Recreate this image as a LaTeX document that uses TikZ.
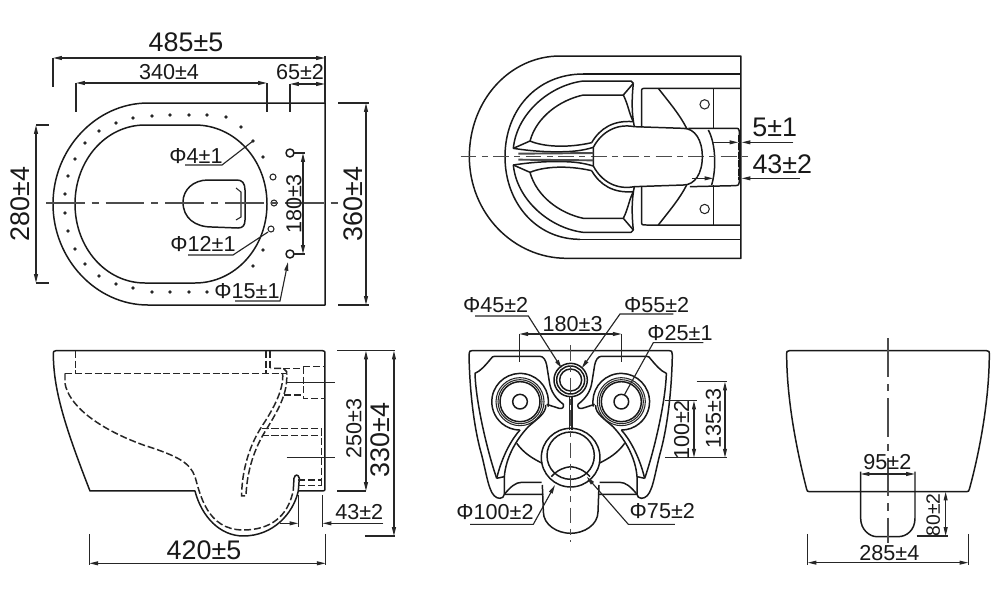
\documentclass[tikz,border=0pt]{standalone}
\usepackage{fontspec}
\setmainfont{Liberation Sans}
\usetikzlibrary{arrows.meta}
\tikzset{
    outl/.style={black!90, line width=0.85pt, line join=round},
    thinl/.style={black!85, line width=0.6pt},
    dashl/.style={black!85, line width=0.85pt, dash pattern=on 4pt off 1.6pt},
    centl/.style={black!70, line width=0.8pt, dash pattern=on 22pt off 4pt on 4pt off 4pt},
    centsh/.style={black!70, line width=0.8pt, dash pattern=on 9pt off 3pt on 3.5pt off 3pt},
    dimn/.style={black!85, line width=0.65pt},
    biglab/.style={inner sep=0pt, text=black!90, font=\fontsize{15.3}{15}\selectfont},
    midlab/.style={inner sep=0pt, text=black!90, font=\fontsize{12.3}{12}\selectfont},
    smalab/.style={inner sep=0pt, text=black!90, font=\fontsize{11}{11}\selectfont},
}
\begin{document}
\begin{tikzpicture}[x=0.02cm, y=-0.02cm, >={Stealth[inset=0pt,length=5pt,width=2.2pt]}]
    \useasboundingbox (0,0) rectangle (1000,596);

    % top view
    \draw[outl] (148,103) -- (325,103) -- (325,305) -- (148,305)
        .. controls (96,305) and (53,259) .. (53,204)
        .. controls (53,149) and (96,103) .. (148,103);
    \draw[outl] (145,125) -- (195,125) .. controls (235,125) and (267,160) .. (267,204)
        .. controls (267,248) and (235,283) .. (195,283) -- (145,283)
        .. controls (106,283) and (75,248) .. (75,204)
        .. controls (75,160) and (106,125) .. (145,125);
    \draw[outl] (245,190) .. controls (245,183) and (242,180) .. (237,180) -- (208,180)
        .. controls (193,180) and (183,190) .. (183,202)
        .. controls (183,218) and (195,227) .. (212,227) -- (238,228)
        .. controls (243,228) and (245,225) .. (245,220) -- cycle;
    \draw[thinl] (236,188) -- (241,192) -- (241,217) -- (236,220);
    \foreach \dx/\dy in {152/116,170/115,189/115,207/115,226/117,241/127,253/141,263/157,
        133/118,116/123,99/131,85/143,75/159,68/176,65/194,65/213,68/231,75/249,85/264,99/276,
        116/284,133/288,152/292,170/292,189/292,207/292,253/266,263/250}
        \fill[black!85] (\dx,\dy) circle[radius=1.9];
    \draw[outl] (290,153) circle[radius=4] (290,254) circle[radius=4];
    \draw[thinl] (273,177) circle[radius=3] (274,203) circle[radius=3] (271,229) circle[radius=3];
    \draw[centl] (46,203) -- (340,203);

    \draw[dimn, <->] (53,58) -- (325,58);
    \draw[dimn] (53,58) -- (53,87) (325,56) -- (325,103);
    \node[biglab] (lenTop) at (186,42) {485±5};
    \draw[dimn, <->] (76,83) -- (267,83);
    \draw[dimn] (76,83) -- (76,112) (267,83) -- (267,112);
    \node[midlab] (holeTop) at (169,72) {340±4};
    \draw[dimn, <->] (290,84) -- (325,84);
    \draw[dimn] (290,84) -- (290,112);
    \node[midlab] (gapTop) at (300,72) {65±2};
    \draw[dimn, <->] (366,103) -- (366,305);
    \draw[dimn] (338,103) -- (369,103) (338,305) -- (369,305);
    \node[biglab, rotate=90] (widTop) at (353,204) {360±4};
    \draw[dimn, <->] (36,125) -- (36,283);
    \draw[dimn] (36,125) -- (49,125) (36,283) -- (49,283);
    \node[biglab, rotate=90] (seatTop) at (20,204) {280±4};
    \draw[dimn, <->] (303,153) -- (303,254);
    \draw[dimn] (294,153) -- (305,153) (294,254) -- (305,254);
    \node[midlab, rotate=90] (fixTop) at (294,204) {180±3};
    \node[midlab] (phiFour) at (196,156) {Φ4±1};
    \draw[dimn] (185,165) -- (222,165) -- (253,141);
    \node[midlab] (phiTwelve) at (203,244) {Φ12±1};
    \draw[dimn] (188,255) -- (233,255) -- (268,232);
    \node[midlab] (phiFifteen) at (247,291) {Φ15±1};
    \draw[dimn, ->] (235,301) -- (280,301) -- (288,262);

    % underside view
    \begin{scope}[shift={(450,40)}, scale=0.3333]
        \draw[outl] (330,48) -- (873,48) -- (873,655) -- (350,655)
            .. controls (190,655) and (58,520) .. (58,350)
            .. controls (58,180) and (180,48) .. (330,48);
        \draw[outl] (400,102) -- (873,102) (390,598) -- (873,598);
        \draw[outl] (400,102) .. controls (260,102) and (165,210) .. (165,350)
            .. controls (165,490) and (260,598) .. (390,598);
        \draw[outl] (715,265) -- (855,265) .. controls (866,265) .. (868,275) -- (868,425)
            .. controls (866,436) .. (855,437) -- (720,440);
        \draw[outl] (775,270) .. controls (797,310) and (800,385) .. (785,435);
        \draw[line width=1.7pt, black!90, dash pattern=on 4pt off 0.8pt] (868,285) -- (868,420);
        \draw[centsh] (32,350) -- (900,350);
    \end{scope}
    \foreach \m in {1,-1}{
    \begin{scope}[shift={(450,156.67)}, xscale=0.3333, yscale=0.3333*\m]
        \draw[outl] (550,-220) -- (543,-227) -- (400,-227)
            .. controls (300,-215) and (200,-130) .. (190,-25)
            .. controls (235,-18) and (290,-13) .. (345,-15)
            .. controls (385,-16) and (410,-22) .. (430,-28);
        \draw[outl] (550,-220) -- (520,-185) -- (400,-185)
            .. controls (330,-170) and (260,-120) .. (240,-47) -- (190,-25);
        \draw[outl] (240,-47) .. controls (280,-30) and (350,-25) .. (425,-42);
        \draw[outl] (520,-185) .. controls (535,-155) and (537,-130) .. (550,-105);
        \draw[outl] (550,-220) .. controls (545,-170) and (545,-130) .. (553,-90);
        \draw[outl] (550,-105) .. controls (490,-110) and (450,-85) .. (425,-42);
        \draw[outl] (757,0) .. controls (757,-50) and (735,-85) .. (700,-85) -- (553,-90)
            .. controls (500,-100) and (455,-75) .. (430,-28) -- (430,0);
        \draw[line width=1.1pt, black!70] (205,-9) -- (430,-11);
        \draw[outl] (575,-88) -- (575,-195) .. controls (575,-205) .. (590,-205) -- (873,-205);
        \draw[outl] (625,-205) .. controls (660,-160) and (690,-125) .. (710,-85);
        \draw[outl] (790,-205) -- (790,-85);
        \draw[thinl] (764,-157) circle[radius=14];
    \end{scope}}
    \begin{scope}[shift={(450,40)}, scale=0.3333]
        \node[biglab] (gapUnder) at (974,262) {5±1};
        \draw[dimn, ->] (1030,307) -- (875,307);
        \draw[dimn, ->] (790,307) -- (865,307);
        \node[biglab] (pipeUnder) at (997,372) {43±2};
        \draw[dimn, ->] (1050,415) -- (875,415);
        \draw[dimn, ->] (725,415) -- (790,415);
    \end{scope}

    % side view
    \begin{scope}[shift={(30,330)}, scale=0.3333]
        \draw[outl] (70,70) .. controls (70,64) .. (78,62) -- (878,62) .. controls (885,64) .. (885,70) -- (885,475)
            .. controls (885,482) .. (878,483) -- (805,483)
            .. controls (790,550) and (730,618) .. (640,618)
            .. controls (570,618) and (515,560) .. (495,483) -- (180,483)
            .. controls (105,290) and (70,180) .. (70,70);
        \draw[outl] (805,483) -- (808,445) .. controls (805,432) and (795,432) .. (792,445) -- (790,480);
        \draw[dashl] (105,130) -- (770,130);
        \draw[dashl] (105,130) -- (105,160) .. controls (115,220) and (190,290) .. (340,345)
            .. controls (450,380) and (480,400) .. (495,440)
            .. controls (510,490) and (530,600) .. (640,600)
            .. controls (720,600) and (775,560) .. (790,480);
        \draw[dashl] (758,130) .. controls (762,175) and (735,230) .. (695,290)
            .. controls (650,360) and (635,440) .. (635,498) -- (648,498)
            .. controls (650,440) and (665,370) .. (705,305)
            .. controls (745,240) and (775,190) .. (770,125) -- (760,115) -- (722,115);
        \draw[dashl] (137,62) -- (137,130) (708,62) -- (708,130) (720,62) -- (720,115);
        \draw[dashl] (820,110) -- (885,110) (820,110) -- (820,205) -- (885,205) (762,195) -- (820,195) (760,115) -- (820,115);
        \draw[dimn] (770,158) -- (915,158) (770,383) -- (915,383);
        \draw[dashl] (695,295) -- (875,295) (695,317) -- (875,317) (875,295) -- (875,467)
            (805,450) -- (875,450) (805,467) -- (875,467);

        \draw[dimn, <->] (1008,62) -- (1008,483);
        \draw[dimn] (922,62) -- (1095,62) (922,483) -- (1008,483);
        \node[midlab, rotate=90] (bowlSide) at (972,295) {250±3};
        \draw[dimn, <->] (1092,62) -- (1092,618);
        \draw[dimn] (1005,618) -- (1095,618);
        \node[biglab, rotate=90] (highSide) at (1050,330) {330±4};
        \draw[dimn, ->] (750,580) -- (805,580);
        \draw[dimn, ->] (1060,580) -- (878,580);
        \draw[dimn] (805,495) -- (805,590) (878,495) -- (878,590);
        \node[midlab] (pipeSide) at (988,546) {43±2};
        \draw[dimn, <->] (178,700) -- (887,700);
        \draw[dimn] (178,612) -- (178,705) (887,612) -- (887,705);
        \node[biglab] (lenSide) at (522,662) {420±5};
    \end{scope}

    % back view
    \foreach \m in {1,-1}{
    \begin{scope}[shift={(570.67,285)}, xscale=0.3333*\m, yscale=0.3333]
        \draw[outl] (0,197) -- (296,197) .. controls (303,197) .. (305,210)
            .. controls (303,320) and (290,430) .. (267,510)
            .. controls (258,545) and (250,590) .. (242,610)
            .. controls (235,630) and (225,640) .. (212,640)
            .. controls (205,640) and (200,635) .. (199,628) -- (82,628);
        \draw[outl] (222,580) .. controls (250,500) and (285,350) .. (287,265)
            .. controls (270,258) and (255,240) .. (240,222)
            .. controls (235,215) .. (228,214) -- (92,214)
            .. controls (82,214) and (75,225) .. (72,240) -- (64,290)
            .. controls (60,320) and (45,340) .. (22,358)
            .. controls (20,368) and (25,372) .. (35,370) -- (72,358);
        \draw[outl] (222,580) -- (199,575) -- (199,628);
        \draw[outl] (152,435) .. controls (175,460) and (205,510) .. (222,580);
        \draw[outl] (75,360) .. controls (72,385) and (105,405) .. (127,425)
            .. controls (165,465) and (195,520) .. (199,575);
        \draw[outl] (68,365) arc[start angle=170, delta angle=280, radius=85];
        \draw[thinl] (152,350) circle[radius=72] (152,350) circle[radius=66];
        \draw[outl] (152,350) circle[radius=60] (152,350) circle[radius=22];
        \draw[outl] (199,628) .. controls (180,605) and (165,592) .. (147,592) -- (87,592);
        \draw[outl] (162,475) .. controls (140,505) and (115,520) .. (85,535);
        \draw[outl] (85,600) -- (82,680) .. controls (82,720) and (40,745) .. (0,745);
        \draw[outl] (58,575) .. controls (40,555) and (20,547) .. (0,545);
        \draw[line width=0.9pt, black!85] (4,335) -- (4,435);
    \end{scope}}
    \begin{scope}[shift={(440,285)}, scale=0.3333]
        \draw[outl] (392,285) circle[radius=50] (392,285) circle[radius=42];
        \draw[outl] (392,285) circle[radius=33];
        \draw[outl] (392,518) circle[radius=88];
        \draw[outl] (392,512) circle[radius=71];
        \draw[centsh] (392,180) -- (392,770);

        \draw[dimn, <->] (238,147) -- (545,147);
        \draw[dimn] (238,147) -- (238,232) (545,147) -- (545,232);
        \node[midlab] (fixBack) at (398,118) {180±3};
        \node[midlab] (phiIn) at (167,60) {Φ45±2};
        \draw[dimn, ->] (105,93) -- (265,93) -- (365,250);
        \node[midlab] (phiOut) at (650,60) {Φ55±2};
        \draw[dimn, ->] (700,87) -- (540,87) -- (425,250);
        \node[midlab] (phiInlet) at (720,145) {Φ25±1};
        \draw[dimn] (790,173) -- (640,173) -- (553,330);
        \node[midlab] (phiDrain) at (165,680) {Φ100±2};
        \draw[dimn, ->] (90,718) -- (280,718) -- (345,600);
        \node[midlab] (phiPipe) at (667,678) {Φ75±2};
        \draw[dimn, ->] (705,718) -- (565,718) -- (440,575);
        \draw[dimn, <->] (762,347) -- (762,518);
        \draw[dimn] (675,347) -- (770,347) (675,518) -- (770,518);
        \node[midlab, rotate=90] (lowBack) at (725,435) {100±2};
        \draw[dimn, <->] (855,290) -- (855,518);
        \draw[dimn] (770,290) -- (860,290) (770,518) -- (860,518);
        \node[midlab, rotate=90] (highBack) at (820,400) {135±3};
    \end{scope}

    % front view
    \begin{scope}[shift={(770,330)}, scale=0.3333]
        \draw[outl] (50,70) .. controls (50,64) .. (58,62) -- (650,62) .. controls (658,64) .. (658,70)
            .. controls (658,220) and (625,380) .. (598,478) .. controls (596,484) .. (590,485)
            -- (118,485) .. controls (112,484) .. (110,478) .. controls (85,380) and (50,220) .. (50,70);
        \draw[outl] (272,425) -- (272,565) .. controls (272,600) and (300,620) .. (320,620) -- (385,620)
            .. controls (410,620) and (435,600) .. (435,565) -- (435,425);
        \draw[centl] (354,25) -- (354,640);
        \draw[dimn, <->] (272,432) -- (435,432);
        \node[midlab] (pipeFront) at (352,397) {95±2};
        \draw[dimn, <->] (527,485) -- (527,618);
        \draw[dimn] (440,618) -- (535,618);
        \node[smalab, rotate=90] (lowFront) at (490,555) {80±2};
        \draw[dimn, <->] (113,698) -- (595,698);
        \draw[dimn] (113,612) -- (113,705) (595,612) -- (595,705);
        \node[midlab] (wideFront) at (358,668) {285±4};
    \end{scope}
\end{tikzpicture}
\end{document}
